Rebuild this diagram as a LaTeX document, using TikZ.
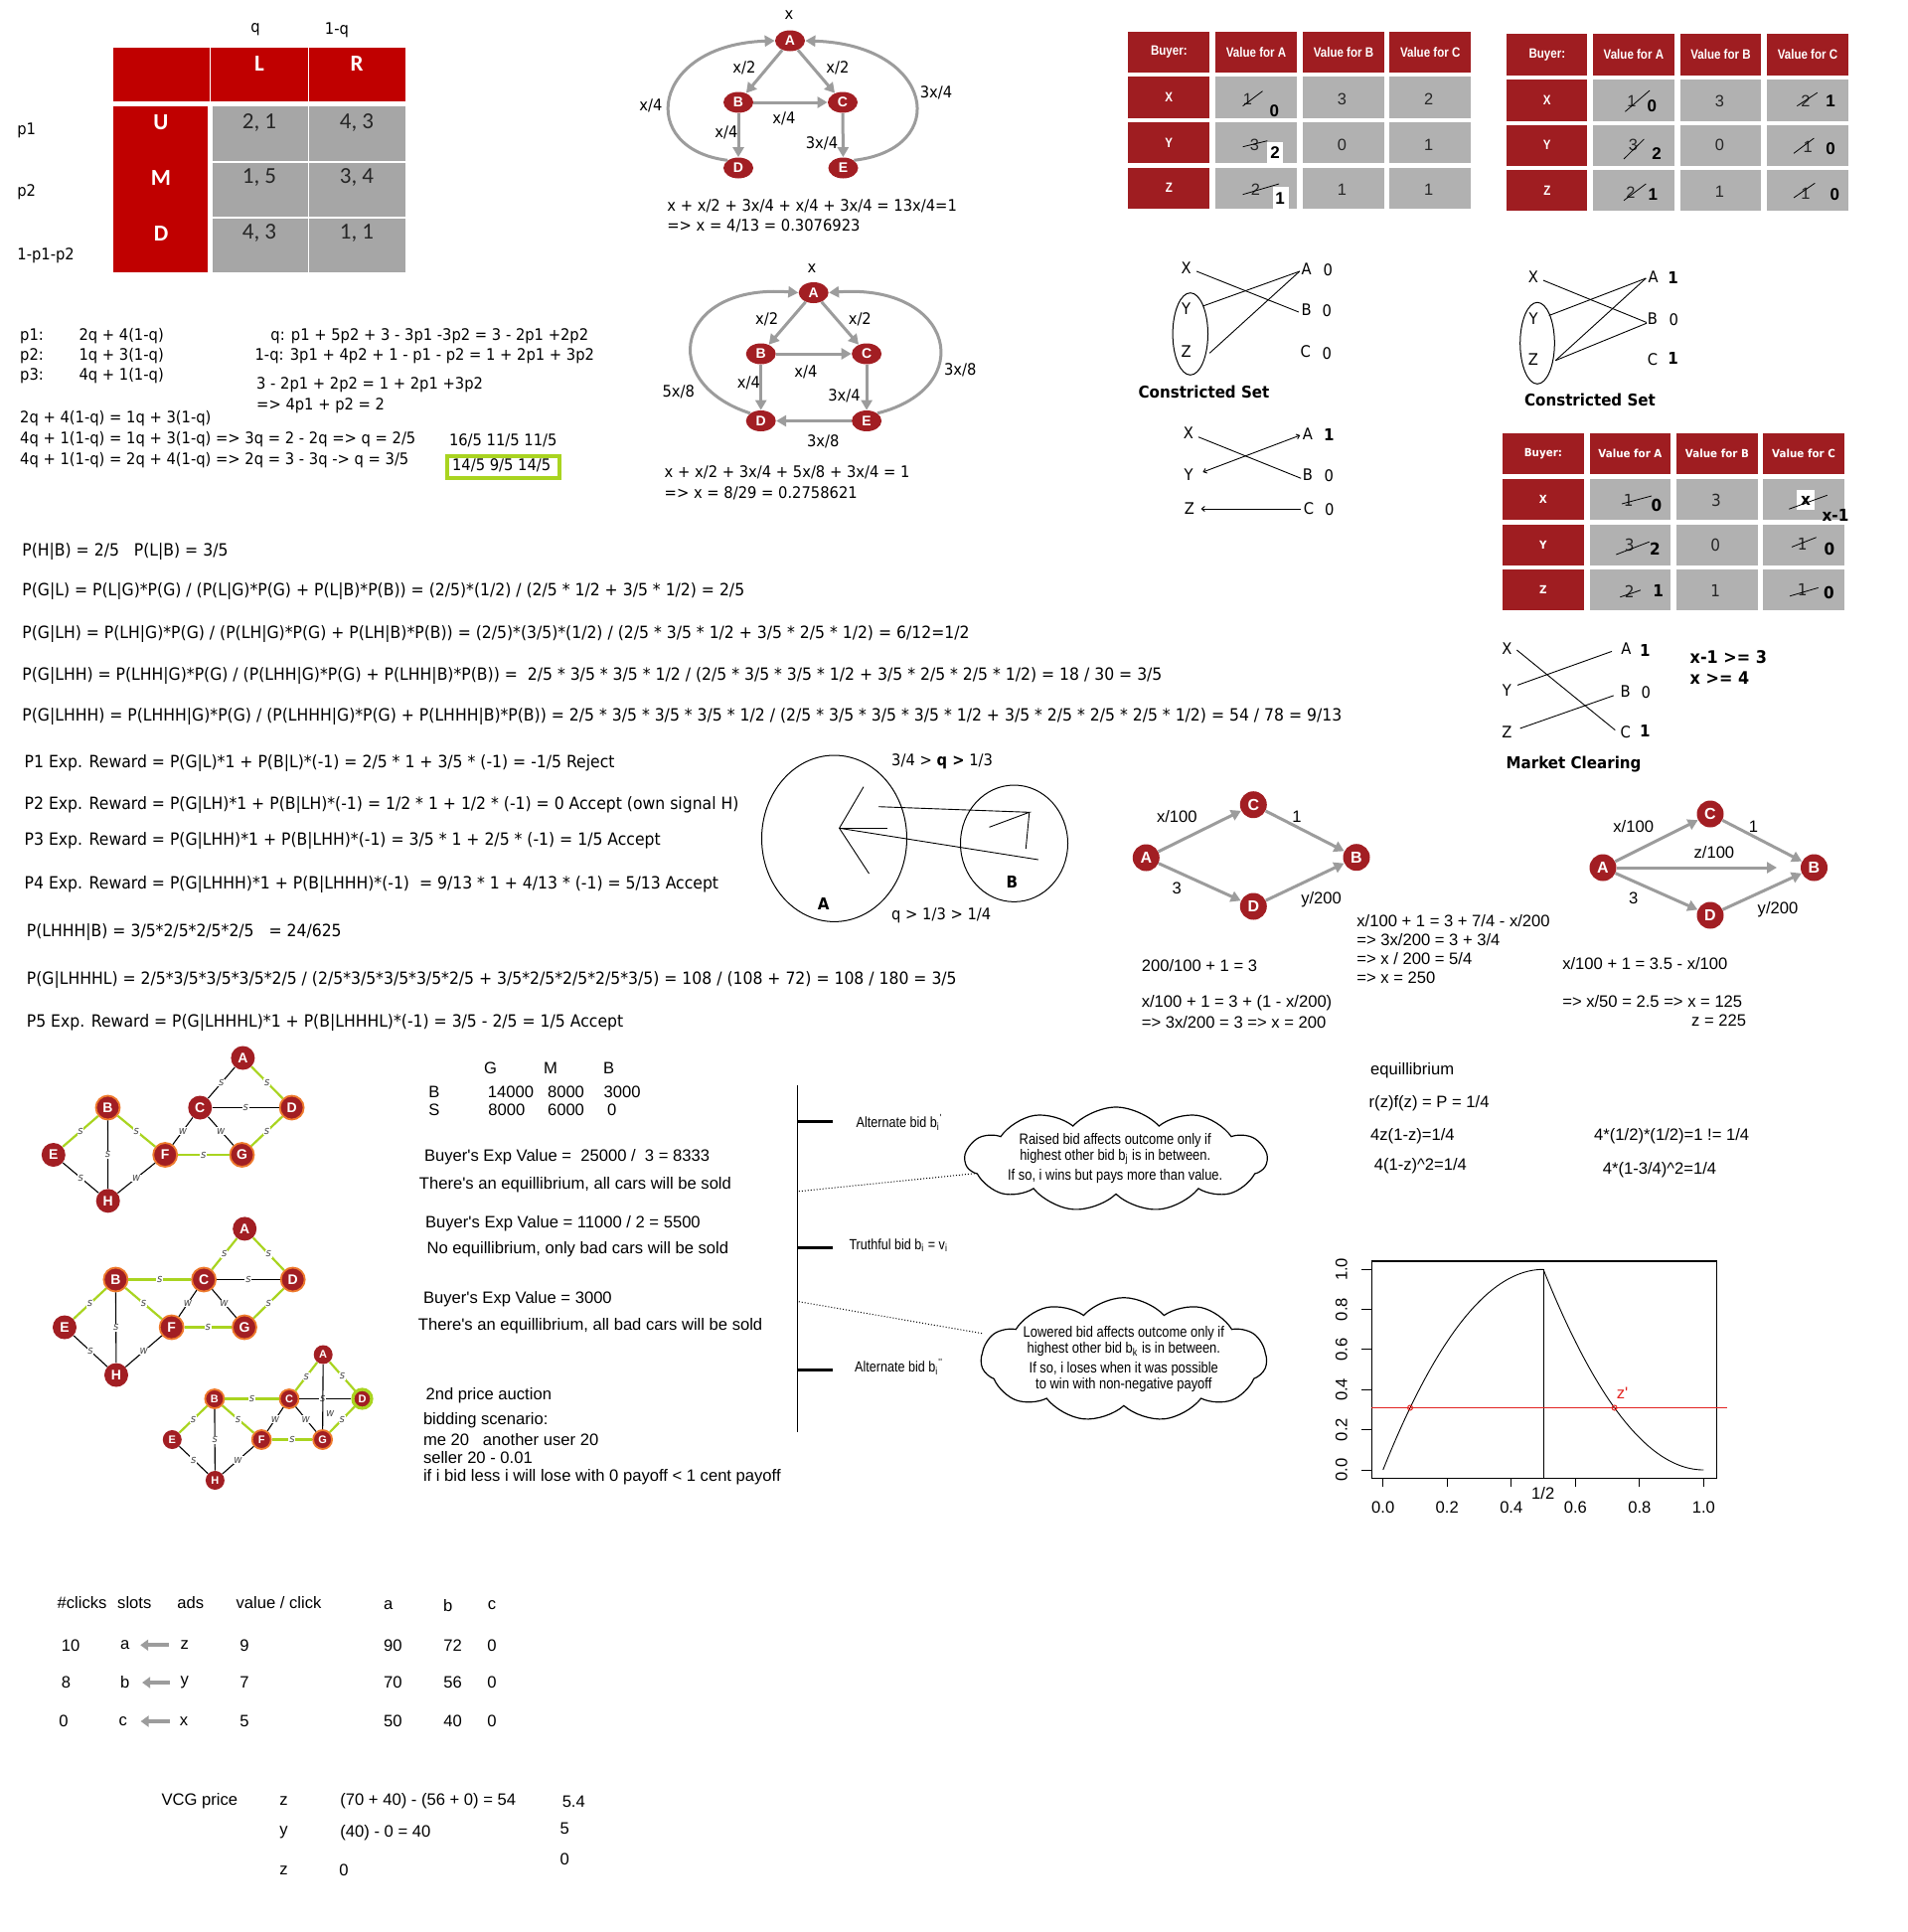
\documentclass[tikz,border=0pt]{standalone}
\usepackage{fontspec}
\setmainfont{Liberation Sans}
\newfontfamily\tah{DejaVu Sans}[FakeStretch=0.92]
\newfontfamily\calib{Carlito}
\newfontfamily\narr{Liberation Sans}[FakeStretch=0.85]
\usetikzlibrary{arrows.meta,shapes.geometric,shapes.symbols}
\newcommand\fs[1]{\fontsize{#1}{#1}\selectfont}
\definecolor{gtred}{HTML}{C00000}
\definecolor{gtgray}{HTML}{A6A6A6}
\definecolor{tbred}{HTML}{9F1D21}
\definecolor{tbgray}{HTML}{B1B1B1}
\definecolor{nred}{HTML}{A21E23}
\definecolor{agray}{HTML}{9C9C9C}
\definecolor{lgreen}{HTML}{A9D420}
\definecolor{oring}{HTML}{EF7A2C}
\definecolor{pred}{HTML}{E32522}
\begin{document}
\begin{tikzpicture}[x=0.5pt,y=-0.5pt,
  tx/.style={inner sep=0pt,font=\tah\fs{8}},
  txl/.style={tx,anchor=west},
  pl/.style={inner sep=0pt,anchor=west,font=\tah\fs{8.5}},
  txb/.style={inner sep=0pt,font=\tah\bfseries\fs{8.2}},
  txbl/.style={txb,anchor=west},
  ax/.style={inner sep=0pt,font=\fs{8.3}},
  axl/.style={ax,anchor=west},
  gt/.style={inner sep=0pt,font=\calib\fs{11.5},text=black!85},
  gtb/.style={inner sep=0pt,font=\calib\bfseries\fs{11.5},text=white},
  gn/.style={ellipse,fill=nred,text=white,font=\bfseries\fs{7},minimum width=15pt,minimum height=10.5pt,inner sep=0pt},
  nn/.style={circle,fill=nred,text=white,font=\bfseries\fs{8},minimum size=13.5pt,inner sep=0pt},
  ga/.style={draw=agray,line width=1.5pt,-{Triangle[length=5pt,width=5.5pt]}},
  bn/.style={circle,fill=nred,text=white,font=\bfseries\fs{7},minimum size=12pt,inner sep=0pt},
  bns/.style={circle,fill=nred,text=white,font=\bfseries\fs{5.5},minimum size=9.5pt,inner sep=0pt},
  orng/.style={draw=oring,line width=0.9pt},
  grng/.style={draw=lgreen,line width=1.6pt},
  ke/.style={draw=black,line width=0.55pt},
  ge/.style={draw=lgreen,line width=1.1pt},
  el/.style={fill=white,inner sep=0.4pt,font=\tah\itshape\fs{5.5},text=black!70},
  hd/.style={inner sep=0pt,text=white,font=\narr\bfseries\fs{6.8}},
  hdt/.style={inner sep=0pt,text=white,font=\tah\bfseries\fs{5.6}},
  tn/.style={inner sep=0pt,font=\fs{8.2},text=black!85},
  bd/.style={inner sep=0pt,font=\bfseries\fs{8.5}},
  tv/.style={inner sep=0pt,font=\tah\fs{8.3},text=black!85},
  bv/.style={inner sep=0pt,font=\tah\bfseries\fs{8.3}},
  stk/.style={draw=black,line width=0.4pt},
  nl/.style={inner sep=0pt,font=\narr\fs{7.6}},
  nll/.style={nl,anchor=west},
  ln/.style={draw=black,line width=0.45pt},
  cld/.style={cloud,draw,line width=0.6pt,cloud puffs=11,cloud puff arc=95,inner sep=0pt},
  clk/.style={draw=agray,line width=2pt,-{Triangle[length=4pt,width=5.5pt]}},
]
\fill[white] (0,0) rectangle (1920,1944);
\useasboundingbox (0,0) rectangle (1920,1944);

% ---------------- game table ----------------
\fill[gtred] (114,48) rectangle (211,102);
\fill[gtred] (212,48) rectangle (310,102);
\fill[gtred] (311,48) rectangle (408,102);
\fill[gtred] (114,107) rectangle (209,274);
\foreach \xa/\xb in {214/309.5,311/408} \foreach \ya/\yb in {107/162,163.5/218,219.5/274} \fill[gtgray] (\xa,\ya) rectangle (\xb,\yb);
\node[tx] (gq) at (257,30) {q};
\node[tx] (gq2) at (339,30) {1-q};
\node[txl] (gp1) at (17,131) {p1};
\node[txl] (gp2) at (17,193) {p2};
\node[txl] (gp3) at (17,257) {1-p1-p2};
\node[gtb] (gL) at (261,64) {L};
\node[gtb] (gR) at (359,64) {R};
\node[gtb] (gU) at (162,123) {U};
\node[gtb] (gM) at (162,179) {M};
\node[gtb] (gD) at (162,235) {D};
\node[gt] (g11) at (261,124) {2, 1};
\node[gt] (g12) at (359,124) {4, 3};
\node[gt] (g21) at (261,179) {1, 5};
\node[gt] (g22) at (359,179) {3, 4};
\node[gt] (g31) at (261,235) {4, 3};
\node[gt] (g32) at (359,235) {1, 1};

% ---------------- equations ----------------
\node[txl] (e1) at (19.8,338.3) {p1:};
\node[txl] (e2) at (79.1,338.3) {2q + 4(1-q)};
\node[txl] (e3) at (19.8,358.3) {p2:};
\node[txl] (e4) at (79.1,358.3) {1q + 3(1-q)};
\node[txl] (e5) at (19.8,378.3) {p3:};
\node[txl] (e6) at (79.1,378.3) {4q + 1(1-q)};
\node[txl] (e7) at (272,338.3) {q: p1 + 5p2 + 3 - 3p1 -3p2 = 3 - 2p1 +2p2};
\node[txl] (e8) at (256.2,358.3) {1-q: 3p1 + 4p2 + 1 - p1 - p2 = 1 + 2p1 + 3p2};
\node[txl] (e9) at (257.8,387.7) {3 - 2p1 + 2p2 = 1 + 2p1 +3p2};
\node[txl] (e10) at (257.8,408.3) {=> 4p1 + p2 = 2};
\node[txl] (e11) at (19.8,421) {2q + 4(1-q) = 1q + 3(1-q)};
\node[txl] (e12) at (19.8,441.7) {4q + 1(1-q) = 1q + 3(1-q) => 3q = 2 - 2q => q = 2/5};
\node[txl] (e13) at (19.8,462.7) {4q + 1(1-q) = 2q + 4(1-q) => 2q = 3 - 3q -> q = 3/5};
\node[txl] (e14) at (451.6,443.3) {16/5 11/5 11/5};
\node[txl] (e15) at (454.7,468.3) {14/5 9/5 14/5};
\draw[draw=lgreen,line width=2pt] (450,458.5) rectangle (562.7,481);

% ---------------- graph 1 ----------------
\node[gn] (A1) at (795,41) {A};
\node[gn] (B1) at (743,103) {B};
\node[gn] (C1) at (848,103) {C};
\node[gn] (D1) at (743,169) {D};
\node[gn] (E1) at (848.5,169) {E};
\draw[ga] (A1) -- (B1);
\draw[ga] (A1) -- (C1);
\draw[ga] (B1) -- (C1);
\draw[ga] (B1) -- (D1);
\draw[ga] (C1) -- (E1);
\draw[ga] (D1.north west) .. controls (640,150) and (655,45) .. (A1.west);
\draw[ga] (E1.north east) .. controls (958,150) and (940,45) .. (A1.east);
\node[tx] (l1x) at (794,15) {x};
\node[tx] (l1a) at (749,68) {x/2};
\node[tx] (l1b) at (843,68) {x/2};
\node[tx] (l1c) at (655,106) {x/4};
\node[tx] (l1d) at (942,93) {3x/4};
\node[tx] (l1e) at (789,119) {x/4};
\node[tx] (l1f) at (731,133) {x/4};
\node[tx] (l1g) at (827,144) {3x/4};
\node[txl] (l1h) at (671,207) {x + x/2 + 3x/4 + x/4 + 3x/4 = 13x/4=1};
\node[txl] (l1i) at (671,227) {=> x = 4/13 = 0.3076923};

% ---------------- graph 2 ----------------
\node[gn] (A2) at (818.7,294.5) {A};
\node[gn] (B2) at (765.7,356) {B};
\node[gn] (C2) at (872.1,356) {C};
\node[gn] (D2) at (765.7,423.5) {D};
\node[gn] (E2) at (872.1,423.5) {E};
\draw[ga] (A2) -- (B2);
\draw[ga] (A2) -- (C2);
\draw[ga] (B2) -- (C2);
\draw[ga] (B2) -- (D2);
\draw[ga] (C2) -- (E2);
\draw[ga] (E2) -- (D2);
\draw[ga] (D2.north west) .. controls (660,385) and (680,285) .. (A2.west);
\draw[ga] (E2.north east) .. controls (985,390) and (960,285) .. (A2.east);
\node[tx] (l2x) at (817,269.7) {x};
\node[tx] (l2a) at (771.6,321.3) {x/2};
\node[tx] (l2b) at (865.3,321.3) {x/2};
\node[tx] (l2c) at (811,374.7) {x/4};
\node[tx] (l2d) at (753.5,385.3) {x/4};
\node[tx] (l2e) at (849.5,398.7) {3x/4};
\node[tx] (l2f) at (682.8,394.7) {5x/8};
\node[tx] (l2g) at (966.3,372) {3x/8};
\node[tx] (l2h) at (828.2,444.7) {3x/8};
\node[txl] (l2i) at (668.3,475.7) {x + x/2 + 3x/4 + 5x/8 + 3x/4 = 1};
\node[txl] (l2j) at (668.3,496.3) {=> x = 8/29 = 0.2758621};

% ---------------- buyer table 1 ----------------
\foreach \xa/\xb in {1135/1217.4,1223/1305.2,1311/1393,1398.2/1480.2} \foreach \ya/\yb in {31.7/73.3,77.3/119,123/164.3,168.7/210} \fill[tbgray] (\xa,\ya) rectangle (\xb,\yb);
\foreach \xa/\xb in {1135/1217.4,1223/1305.2,1311/1393,1398.2/1480.2} \fill[tbred] (\xa,31.7) rectangle (\xb,73.3);
\foreach \ya/\yb in {77.3/119,123/164.3,168.7/210} \fill[tbred] (1135,\ya) rectangle (1217.4,\yb);
\node[hd] (h1a) at (1176.3,52.5) {Buyer:};
\node[hd] (h1b) at (1264.1,52.5) {Value for A};
\node[hd] (h1c) at (1352,52.5) {Value for B};
\node[hd] (h1d) at (1439.2,52.5) {Value for C};
\node[hd] (h1x) at (1176.3,98.2) {X};
\node[hd] (h1y) at (1176.3,143.7) {Y};
\node[hd] (h1z) at (1176.3,189.3) {Z};
\node[tn] (t1xa) at (1255.3,100) {1};
\draw[stk] (1250.6,106.7) -- (1270.5,91.7);
\node[bd] (t1xa2) at (1282.4,112) {0};
\node[tn] (t1xb) at (1350.3,100) {3};
\node[tn] (t1xc) at (1437.7,100) {2};
\node[tn] (t1ya) at (1262.4,145.7) {3};
\draw[stk] (1250.6,147.7) -- (1275.3,141.7);
\fill[white] (1275.3,143.3) rectangle (1291,164.3);
\node[bd] (t1ya2) at (1283,153.5) {2};
\node[tn] (t1yb) at (1350.3,145.7) {0};
\node[tn] (t1yc) at (1437.7,145.7) {1};
\node[tn] (t1za) at (1263.4,190.7) {2};
\draw[stk] (1250.6,195.7) -- (1287.1,185);
\fill[white] (1281.4,188.3) rectangle (1296.6,210);
\node[bd] (t1za2) at (1288,200) {1};
\node[tn] (t1zb) at (1350.3,190.7) {1};
\node[tn] (t1zc) at (1437.7,190.7) {1};

% ---------------- buyer table 2 ----------------
\foreach \xa/\xb in {1516.2/1597.4,1603/1684.7,1690.6/1772.4,1778.1/1859.8} \foreach \ya/\yb in {34/75.7,79.7/121.7,125.7/167,171/212.3} \fill[tbgray] (\xa,\ya) rectangle (\xb,\yb);
\foreach \xa/\xb in {1516.2/1597.4,1603/1684.7,1690.6/1772.4,1778.1/1859.8} \fill[tbred] (\xa,34) rectangle (\xb,75.7);
\foreach \ya/\yb in {79.7/121.7,125.7/167,171/212.3} \fill[tbred] (1516.2,\ya) rectangle (1597.4,\yb);
\node[hd] (h2a) at (1556.8,54.8) {Buyer:};
\node[hd] (h2b) at (1643.9,54.8) {Value for A};
\node[hd] (h2c) at (1731.5,54.8) {Value for B};
\node[hd] (h2d) at (1819,54.8) {Value for C};
\node[hd] (h2x) at (1556.8,100.7) {X};
\node[hd] (h2y) at (1556.8,146.3) {Y};
\node[hd] (h2z) at (1556.8,191.7) {Z};
\node[tn] (t2xa) at (1642,101.7) {1};
\draw[stk] (1635.4,112.3) -- (1660.1,91);
\node[bd] (t2xa2) at (1662.4,106.7) {0};
\node[tn] (t2xb) at (1730.4,101.7) {3};
\node[tn] (t2xc) at (1816.8,101.7) {2};
\draw[stk] (1808.3,106.7) -- (1828.7,93.3);
\node[bd] (t2xc2) at (1842,101.7) {1};
\node[tn] (t2ya) at (1643.4,145.7) {3};
\draw[stk] (1634,160) -- (1654.4,140);
\node[bd] (t2ya2) at (1667.2,154.3) {2};
\node[tn] (t2yb) at (1730.4,146) {0};
\node[tn] (t2yc) at (1819.2,148.3) {1};
\draw[stk] (1805,154.3) -- (1825.4,139);
\node[bd] (t2yc2) at (1842,150) {0};
\node[tn] (t2za) at (1641,193.3) {2};
\draw[stk] (1634,201.7) -- (1656.3,185);
\node[bd] (t2za2) at (1663.4,196) {1};
\node[tn] (t2zb) at (1730.4,193) {1};
\node[tn] (t2zc) at (1816.8,195) {1};
\draw[stk] (1805,199) -- (1826.3,184.3);
\node[bd] (t2zc2) at (1846.3,195.7) {0};

% ---------------- constricted set 1 ----------------
\node[tx] (s1X) at (1193.7,269.7) {X};
\node[tx] (s1Y) at (1193.7,310.7) {Y};
\node[tx] (s1Z) at (1193.7,354) {Z};
\node[tx] (s1A) at (1314.6,270.7) {A};
\node[tx] (s1B) at (1314.6,311.3) {B};
\node[tx] (s1C) at (1313.7,354) {C};
\node[tx] (s1a) at (1336.4,272) {0};
\node[tx] (s1b) at (1335.4,313) {0};
\node[tx] (s1c) at (1335.4,355.3) {0};
\coordinate (s1x1) at (1204.1,273);
\coordinate (s1b1) at (1306.9,314);
\coordinate (s1y1) at (1210.4,308);
\coordinate (s1a1) at (1307.8,273);
\coordinate (s1z1) at (1217.2,355.3);
\draw[ln] (s1x1) -- (s1b1);
\draw[ln] (s1y1) -- (s1a1);
\draw[ln] (s1z1) -- (s1a1);
\draw[line width=0.5pt] (1197.8,336) ellipse [x radius=17.7, y radius=41.3];
\node[txbl] (s1t) at (1145.2,394.7) {Constricted Set};

% matching below
\node[tx] (m1X) at (1196,435.3) {X};
\node[tx] (m1Y) at (1196,477.3) {Y};
\node[tx] (m1Z) at (1196.9,511.3) {Z};
\node[tx] (m1A) at (1316,436.3) {A};
\node[tx] (m1B) at (1316,477.3) {B};
\node[tx] (m1C) at (1316.9,511.3) {C};
\node[txb] (m1a) at (1337.3,437.3) {1};
\node[tx] (m1b) at (1337.3,478.7) {0};
\node[tx] (m1c) at (1337.7,513) {0};
\coordinate (m1x1) at (1205.9,439.7);
\coordinate (m1b1) at (1309.2,481.3);
\coordinate (m1a1) at (1308.3,438);
\coordinate (m1y1) at (1210.4,475);
\coordinate (m1z1) at (1208.6,512);
\coordinate (m1c1) at (1309.2,512);
\draw[ln] (m1x1) -- (m1b1);
\draw[ln,{Straight Barb[length=1.5pt,width=2.5pt]}-{Straight Barb[length=1.5pt,width=2.5pt]}] (m1y1) -- (m1a1);
\draw[ln,{Straight Barb[length=1.5pt,width=2.5pt]}-] (m1z1) -- (m1c1);

% ---------------- constricted set 2 ----------------
\node[tx] (s2X) at (1543,278.6) {X};
\node[tx] (s2Y) at (1543,320.3) {Y};
\node[tx] (s2Z) at (1543,362) {Z};
\node[tx] (s2A) at (1663.7,278.6) {A};
\node[tx] (s2B) at (1663,320.3) {B};
\node[tx] (s2C) at (1663,362) {C};
\node[txb] (s2a) at (1683.7,280) {1};
\node[tx] (s2b) at (1684.3,322) {0};
\node[txb] (s2c) at (1683.7,361) {1};
\coordinate (s2x1) at (1553,282.1);
\coordinate (s2b1) at (1657,324.5);
\coordinate (s2y1) at (1558.7,317.5);
\coordinate (s2a1) at (1656.3,280);
\coordinate (s2z1) at (1565.3,362.7);
\coordinate (s2b2) at (1657,325.2);
\draw[ln] (s2x1) -- (s2b1);
\draw[ln] (s2y1) -- (s2a1);
\draw[ln] (s2z1) -- (s2a1);
\draw[ln] (s2z1) -- (s2b2);
\draw[line width=0.5pt] (1547,345.3) ellipse [x radius=17.3, y radius=41];
\node[txbl] (s2t) at (1533.7,402.7) {Constricted Set};

% ---------------- buyer table 3 ----------------
\foreach \xa/\xb in {1512/1593.7,1599.7/1681,1687/1768.7,1774.3/1855.7} \foreach \ya/\yb in {435.7/477.4,481.6/522.6,527.5/568.5,573/614} \fill[tbgray] (\xa,\ya) rectangle (\xb,\yb);
\foreach \xa/\xb in {1512/1593.7,1599.7/1681,1687/1768.7,1774.3/1855.7} \fill[tbred] (\xa,435.7) rectangle (\xb,477.4);
\foreach \ya/\yb in {481.6/522.6,527.5/568.5,573/614} \fill[tbred] (1512,\ya) rectangle (1593.7,\yb);
\node[hdt] (h3a) at (1552.9,456.5) {Buyer:};
\node[hdt] (h3b) at (1640.4,456.5) {Value for A};
\node[hdt] (h3c) at (1727.9,456.5) {Value for B};
\node[hdt] (h3d) at (1815,456.5) {Value for C};
\node[hdt] (h3x) at (1552.9,502.1) {X};
\node[hdt] (h3y) at (1552.9,548) {Y};
\node[hdt] (h3z) at (1552.9,593.5) {Z};
\node[tv] (t3xa) at (1638.7,503.5) {1};
\draw[stk] (1632,507) -- (1662,499);
\node[bv] (t3xa2) at (1667,508) {0};
\node[tv] (t3xb) at (1727,503.5) {3};
\fill[white] (1808,493) rectangle (1825.7,513.2);
\node[bv] (t3xc) at (1817,504.2) {x};
\draw[stk] (1800.3,512.2) -- (1838.7,498.3);
\node[bv] (t3xc2) at (1847,518.4) {x-1};
\node[tv] (t3ya) at (1639.7,548.7) {3};
\draw[stk] (1626.3,558) -- (1659.7,545.2);
\node[bv] (t3ya2) at (1665.3,552.1) {2};
\node[tv] (t3yb) at (1726.3,548.7) {0};
\node[tv] (t3yc) at (1813.7,547.6) {1};
\draw[stk] (1803,550.4) -- (1827.7,540.7);
\node[bv] (t3yc2) at (1841,552.1) {0};
\node[tv] (t3za) at (1639.7,594.9) {2};
\draw[stk] (1630.3,600.8) -- (1651,593.8);
\node[bv] (t3za2) at (1668.7,594.9) {1};
\node[tv] (t3zb) at (1726.3,594.9) {1};
\node[tv] (t3zc) at (1813.7,593.8) {1};
\draw[stk] (1801,599.8) -- (1829.7,591.4);
\node[bv] (t3zc2) at (1840.3,596.6) {0};

% ---------------- market clearing ----------------
\node[tx] (mcX) at (1516.3,653) {X};
\node[tx] (mcY) at (1516.3,694.6) {Y};
\node[tx] (mcZ) at (1516.3,736.4) {Z};
\node[tx] (mcA) at (1636.3,653) {A};
\node[tx] (mcB) at (1635.7,695.3) {B};
\node[tx] (mcC) at (1635.7,736.4) {C};
\node[txb] (mca) at (1655.3,654.7) {1};
\node[tx] (mcb) at (1656.3,697) {0};
\node[txb] (mcc) at (1655.3,735.7) {1};
\coordinate (mcx1) at (1526.3,654);
\coordinate (mcc1) at (1625.3,734.6);
\coordinate (mcy1) at (1527,689.4);
\coordinate (mca1) at (1622,655.4);
\coordinate (mcz1) at (1529.7,732.9);
\coordinate (mcb1) at (1623.7,699.9);
\draw[ln] (mcx1) -- (mcc1);
\draw[ln] (mcy1) -- (mca1);
\draw[ln] (mcz1) -- (mcb1);
\node[txbl] (mct) at (1515.3,769.4) {Market Clearing};
\node[txbl,font=\tah\bfseries\fs{8.7}] (mcq1) at (1700.3,661.6) {x-1 >= 3};
\node[txbl,font=\tah\bfseries\fs{8.7}] (mcq2) at (1700.3,682.5) {x >= 4};

% ---------------- probability text ----------------
\node[pl] (p1) at (22,554.7) {P(H|B) = 2/5~~~P(L|B) = 3/5};
\node[pl] (p2) at (22,594.7) {P(G|L) = P(L|G)*P(G) / (P(L|G)*P(G) + P(L|B)*P(B)) = (2/5)*(1/2) / (2/5 * 1/2 + 3/5 * 1/2) = 2/5};
\node[pl] (p3) at (22,638) {P(G|LH) = P(LH|G)*P(G) / (P(LH|G)*P(G) + P(LH|B)*P(B)) = (2/5)*(3/5)*(1/2) / (2/5 * 3/5 * 1/2 + 3/5 * 2/5 * 1/2) = 6/12=1/2};
\node[pl] (p4) at (22,679.7) {P(G|LHH) = P(LHH|G)*P(G) / (P(LHH|G)*P(G) + P(LHH|B)*P(B)) = ~2/5 * 3/5 * 3/5 * 1/2 / (2/5 * 3/5 * 3/5 * 1/2 + 3/5 * 2/5 * 2/5 * 1/2) = 18 / 30 = 3/5};
\node[pl] (p5) at (22,721.3) {P(G|LHHH) = P(LHHH|G)*P(G) / (P(LHHH|G)*P(G) + P(LHHH|B)*P(B)) = 2/5 * 3/5 * 3/5 * 3/5 * 1/2 / (2/5 * 3/5 * 3/5 * 3/5 * 1/2 + 3/5 * 2/5 * 2/5 * 2/5 * 1/2) = 54 / 78 = 9/13};
\node[pl] (r1) at (24.3,768) {P1 Exp. Reward = P(G|L)*1 + P(B|L)*(-1) = 2/5 * 1 + 3/5 * (-1) = -1/5 Reject};
\node[pl] (r2) at (24.3,809.7) {P2 Exp. Reward = P(G|LH)*1 + P(B|LH)*(-1) = 1/2 * 1 + 1/2 * (-1) = 0 Accept (own signal H)};
\node[pl] (r3) at (24.3,846.3) {P3 Exp. Reward = P(G|LHH)*1 + P(B|LHH)*(-1) = 3/5 * 1 + 2/5 * (-1) = 1/5 Accept};
\node[pl] (r4) at (24.3,889.7) {P4 Exp. Reward = P(G|LHHH)*1 + P(B|LHHH)*(-1) ~= 9/13 * 1 + 4/13 * (-1) = 5/13 Accept};
\node[pl] (r5) at (26.5,938) {P(LHHH|B) = 3/5*2/5*2/5*2/5 ~~= 24/625};
\node[pl] (r6) at (26.5,986.3) {P(G|LHHHL) = 2/5*3/5*3/5*3/5*2/5 / (2/5*3/5*3/5*3/5*2/5 + 3/5*2/5*2/5*2/5*3/5) = 108 / (108 + 72) = 108 / 180 = 3/5};
\node[pl] (r7) at (26.5,1029) {P5 Exp. Reward = P(G|LHHHL)*1 + P(B|LHHHL)*(-1) = 3/5 - 2/5 = 1/5 Accept};

% ---------------- circles A/B ----------------
\draw[line width=0.5pt] (839.5,843.7) ellipse [x radius=73, y radius=83.7];
\draw[line width=0.5pt] (1020.5,848.7) ellipse [x radius=54, y radius=58.7];
\node[txb] (cA) at (828.6,909.7) {A};
\node[txb] (cB) at (1018.4,888) {B};
\node[txl] (cq1) at (896.8,766.7) {3/4 > \textbf{q >} 1/3};
\node[txl] (cq2) at (896.8,921.3) {q > 1/3 > 1/4};
\coordinate (k1) at (869,791.7);
\coordinate (k2) at (844.6,833.3);
\coordinate (k3) at (874.5,879);
\coordinate (k4) at (893.3,833.3);
\coordinate (k5) at (1044.8,865);
\coordinate (k6) at (884.2,811.7);
\coordinate (k7) at (1035.8,817.3);
\coordinate (k8) at (995.5,832.3);
\coordinate (k9) at (1032.3,854);
\draw[ln] (k1) -- (k2) -- (k3);
\draw[ln] (k2) -- (k4);
\draw[ln] (k2) -- (k5);
\draw[ln] (k6) -- (k7) -- (k8);
\draw[ln] (k7) -- (k9);

% ---------------- network 1 ----------------
\node[nn] (N1A) at (1153.3,863) {A};
\node[nn] (N1C) at (1261.3,809.7) {C};
\node[nn] (N1B) at (1365,862.7) {B};
\node[nn] (N1D) at (1261.3,912) {D};
\draw[ga] (N1A) -- (N1C);
\draw[ga] (N1C) -- (N1B);
\draw[ga] (N1A) -- (N1D);
\draw[ga] (N1D) -- (N1B);
\node[ax] (n1a) at (1184.3,821.7) {x/100};
\node[ax] (n1b) at (1305,821.7) {1};
\node[ax] (n1c) at (1184.3,893.3) {3};
\node[ax] (n1d) at (1329.6,905) {y/200};
\node[axl] (n1e) at (1148.4,971.7) {200/100 + 1 = 3};
\node[axl] (n1f) at (1148.4,1009.3) {x/100 + 1 = 3 + (1 - x/200)};
\node[axl] (n1g) at (1148.4,1028.3) {=> 3x/200 = 3 => x = 200};
\node[axl] (n1h) at (1365,926.7) {x/100 + 1 = 3 + 7/4 - x/200};
\node[axl] (n1i) at (1365,945.7) {=> 3x/200 = 3 + 3/4};
\node[axl] (n1j) at (1365,964.3) {=> x / 200 = 5/4};
\node[axl] (n1k) at (1365,983.3) {=> x = 250};

% ---------------- network 2 ----------------
\node[nn] (N2A) at (1613,873) {A};
\node[nn] (N2C) at (1721,819) {C};
\node[nn] (N2B) at (1825.5,873) {B};
\node[nn] (N2D) at (1721,921) {D};
\coordinate (N2x) at (1788,873);
\draw[ga] (N2A) -- (N2C);
\draw[ga] (N2C) -- (N2B);
\draw[ga] (N2A) -- (N2D);
\draw[ga] (N2D) -- (N2B);
\draw[ga] (N2A) -- (N2x);
\node[ax] (n2a) at (1643.7,831.7) {x/100};
\node[ax] (n2b) at (1764.4,831.7) {1};
\node[ax] (n2c) at (1724.9,857.3) {z/100};
\node[ax] (n2d) at (1643.7,903.3) {3};
\node[ax] (n2e) at (1789,915) {y/200};
\node[axl] (n2f) at (1571.9,969.3) {x/100 + 1 = 3.5 - x/100};
\node[axl] (n2g) at (1571.9,1007.7) {=> x/50 = 2.5 => x = 125};
\node[axl] (n2h) at (1701.8,1026.7) {z = 225};

% ---------------- small graph a ----------------
\node[bn,orng] (aB) at (108.5,1114.5) {B};
\node[bn] (aA) at (244.4,1064.5) {A};
\node[bn] (aC) at (201.3,1114.5) {C};
\node[bn,orng] (aD) at (293.6,1114.5) {D};
\node[bn] (aE) at (53.8,1162) {E};
\node[bn,orng] (aF) at (166.2,1162) {F};
\node[bn,orng] (aG) at (243.5,1162) {G};
\node[bn] (aH) at (108.7,1208.3) {H};
\draw[ke] (aA) -- node[el]{s} (aC);
\draw[ge] (aA) -- node[el]{s} (aD);
\draw[ke] (aC) -- node[el]{s} (aD);
\draw[ke] (aC) -- node[el]{w} (aF);
\draw[ke] (aC) -- node[el]{w} (aG);
\draw[ge] (aB) -- node[el]{s} (aE);
\draw[ge] (aB) -- node[el]{s} (aF);
\draw[ke] (aB) -- node[el]{s} (aH);
\draw[ke] (aE) -- node[el]{s} (aH);
\draw[ke] (aF) -- node[el]{w} (aH);
\draw[ge] (aF) -- node[el]{s} (aG);
\draw[ge] (aD) -- node[el]{s} (aG);

% ---------------- small graph b ----------------
\node[bn] (bA) at (246.2,1236.4) {A};
\node[bn,orng] (bB) at (116.4,1287.5) {B};
\node[bn,orng] (bC) at (205.1,1287.5) {C};
\node[bn,orng] (bD) at (294.7,1287.5) {D};
\node[bn] (bE) at (65,1335.5) {E};
\node[bn,orng] (bF) at (172.7,1335.5) {F};
\node[bn,orng] (bG) at (246,1335.5) {G};
\node[bn] (bH) at (117,1383.5) {H};
\draw[ge] (bA) -- node[el]{s} (bC);
\draw[ge] (bA) -- node[el]{s} (bD);
\draw[ge] (bB) -- node[el]{s} (bC);
\draw[ke] (bC) -- node[el]{s} (bD);
\draw[ke] (bC) -- node[el]{w} (bF);
\draw[ke] (bC) -- node[el]{w} (bG);
\draw[ge] (bB) -- node[el]{s} (bE);
\draw[ge] (bB) -- node[el]{s} (bF);
\draw[ke] (bB) -- node[el]{s} (bH);
\draw[ke] (bE) -- node[el]{s} (bH);
\draw[ke] (bF) -- node[el]{w} (bH);
\draw[ge] (bF) -- node[el]{s} (bG);
\draw[ge] (bD) -- node[el]{s} (bG);

% ---------------- small graph c ----------------
\node[bns] (cnA) at (325.2,1363) {A};
\node[bns,orng] (cnB) at (215.9,1407.5) {B};
\node[bns,orng] (cnC) at (291,1407.5) {C};
\node[bns,grng] (cnD) at (364.5,1407.5) {D};
\node[bns] (cnE) at (173.3,1448.5) {E};
\node[bns,orng] (cnF) at (263.2,1448.5) {F};
\node[bns,orng] (cnG) at (324.6,1448.5) {G};
\node[bns] (cnH) at (216.4,1489.5) {H};
\draw[ge] (cnA) -- node[el]{s} (cnC);
\draw[ge] (cnA) -- node[el]{s} (cnD);
\draw[ge] (cnB) -- node[el]{s} (cnC);
\draw[ke] (cnC) -- node[el,pos=0.45]{s} (cnD);
\draw[ke] (cnA) -- node[el,pos=0.76,right=1pt,fill=none]{w} (cnG);
\draw[ke] (cnC) -- node[el]{w} (cnF);
\draw[ke] (cnC) -- node[el]{w} (cnG);
\draw[ge] (cnD) -- node[el]{s} (cnG);
\draw[ge] (cnB) -- node[el]{s} (cnE);
\draw[ge] (cnB) -- node[el]{s} (cnF);
\draw[ke] (cnB) -- node[el]{s} (cnH);
\draw[ke] (cnE) -- node[el]{s} (cnH);
\draw[ke] (cnF) -- node[el]{w} (cnH);
\draw[ge] (cnF) -- node[el]{s} (cnG);

% ---------------- car table ----------------
\node[ax] (vG) at (493.5,1074.3) {G};
\node[ax] (vM) at (554.1,1074.3) {M};
\node[ax] (vB) at (612.7,1074.3) {B};
\node[ax] (vb) at (436.9,1098.3) {B};
\node[ax] (vb1) at (514,1098.3) {14000};
\node[ax] (vb2) at (569.5,1098.3) {8000};
\node[ax] (vb3) at (626.1,1098.3) {3000};
\node[ax] (vs) at (436.9,1117) {S};
\node[ax] (vs1) at (509.9,1117) {8000};
\node[ax] (vs2) at (569.5,1117) {6000};
\node[ax] (vs3) at (615.8,1117) {0};
\node[axl] (v1) at (426.6,1163.7) {Buyer\textquotesingle s Exp Value = ~25000 / ~3 = 8333};
\node[axl] (v2) at (421.5,1191.7) {There\textquotesingle s an equillibrium, all cars will be sold};
\node[axl] (v3) at (427.7,1231) {Buyer\textquotesingle s Exp Value = 11000 / 2 = 5500};
\node[axl] (v4) at (429.2,1256.7) {No equillibrium, only bad cars will be sold};
\node[axl] (v5) at (425.6,1306.7) {Buyer\textquotesingle s Exp Value = 3000};
\node[axl] (v6) at (420.5,1334.3) {There\textquotesingle s an equillibrium, all bad cars will be sold};
\node[axl] (v7) at (428.2,1404.3) {2nd price auction};
\node[axl] (v8) at (425.6,1429.3) {bidding scenario:};
\node[axl] (v9) at (425.6,1448.3) {me 20 ~~another user 20};
\node[axl] (v10) at (425.6,1467) {seller 20 - 0.01};
\node[axl] (v11) at (425.6,1486) {if i bid less i will lose with 0 payoff < 1 cent payoff};

% ---------------- bidding timeline ----------------
\coordinate (tl0) at (802.3,1092.3);
\coordinate (tl1) at (802.3,1441.3);
\draw[line width=0.8pt] (tl0) -- (tl1);
\draw[line width=1.5pt] (802.3,1128) -- (838.3,1128);
\draw[line width=1.5pt] (802.3,1255.3) -- (838.3,1255.3);
\draw[line width=1.5pt] (802.3,1378) -- (838.3,1378);
\node[nll,font=\narr\fs{7.4}] (bl1) at (861.3,1129.7) {Alternate bid b\textsubscript{i}\textsuperscript{\textquotesingle}};
\node[nll,font=\narr\fs{7.4}] (bl2) at (854.1,1253) {Truthful bid b\textsubscript{i} = v\textsubscript{i}};
\node[nll,font=\narr\fs{7.4}] (bl3) at (859.8,1375.7) {Alternate bid b\textsubscript{i}\textsuperscript{\textquotesingle\textquotesingle}};
\node[cld,aspect=2.9,minimum width=151.6pt,minimum height=52.5pt] (cl1) at (1123,1166.5) {};
\node[cld,aspect=2.3,minimum width=143.7pt,minimum height=62.3pt] (cl2) at (1130.9,1368) {};
\node[nl] (c1t1) at (1122.2,1148) {Raised bid affects outcome only if};
\node[nl] (c1t2) at (1122.2,1164) {highest other bid b\textsubscript{j} is in between.};
\node[nl] (c1t3) at (1122.2,1184) {If so, i wins but pays more than value.};
\node[nl] (c2t1) at (1130.8,1341.3) {Lowered bid affects outcome only if};
\node[nl] (c2t2) at (1130.8,1358) {highest other bid b\textsubscript{k} is in between.};
\node[nl] (c2t3) at (1130.8,1378) {If so, i loses when it was possible};
\node[nl] (c2t4) at (1130.8,1393.7) {to win with non-negative payoff};
\coordinate (dt1) at (803.8,1198.7);
\coordinate (dt2) at (803.8,1309.7);
\coordinate (dc1) at (981.3,1180.7);
\coordinate (dc2) at (988.5,1341.7);
\draw[densely dotted,line width=0.5pt] (dt1) -- (dc1);
\draw[densely dotted,line width=0.5pt] (dt2) -- (dc2);

% ---------------- equilibrium ----------------
\node[axl] (q1) at (1378.8,1077) {equillibrium};
\node[axl] (q2) at (1377.3,1109.7) {r(z)f(z) = P = 1/4};
\node[axl] (q3) at (1378.8,1143) {4z(1-z)=1/4};
\node[axl] (q4) at (1382.4,1173) {4(1-z)\textasciicircum 2=1/4};
\node[axl] (q5) at (1603.8,1143) {4*(1/2)*(1/2)=1 != 1/4};
\node[axl] (q6) at (1612.4,1177) {4*(1-3/4)\textasciicircum 2=1/4};

% ---------------- plot ----------------
\draw[line width=0.7pt] (1380.2,1269) rectangle (1727.4,1487.3);
\foreach \t/\lab in {0/0.0,0.2/0.2,0.4/0.4,0.6/0.6,0.8/0.8,1/1.0} {
  \draw[line width=0.5pt] ({1391.7+322.7*\t},1487.3) -- ({1391.7+322.7*\t},1496);
  \node[ax] at ({1391.7+322.7*\t},1516.3) {\lab};
}
\foreach \v/\lab in {0/0.0,0.2/0.2,0.4/0.4,0.6/0.6,0.8/0.8,1/1.0} {
  \draw[line width=0.5pt] (1370.2,{1479-201.7*\v}) -- (1380.2,{1479-201.7*\v});
  \node[ax,rotate=90] at (1350,{1479-201.7*\v}) {\lab};
}
\node[ax] (half) at (1552.7,1503) {1/2};
\draw[line width=0.45pt] plot[domain=0:0.5,samples=60] ({1391.7+322.7*\x},{1479-201.7*4*\x*(1-\x)});
\draw[line width=0.45pt] plot[domain=0.5:1,samples=60] ({1391.7+322.7*\x},{1479-201.7*4*(1-\x)*(1-\x)});
\draw[line width=0.4pt] (1553.1,1277.3) -- (1553.1,1487.3);
\draw[pred,line width=0.6pt] (1380.2,1416.5) -- (1738.2,1416.5);
\draw[pred,line width=0.5pt] (1419,1416.5) circle [radius=2.5];
\draw[pred,line width=0.5pt] (1624.6,1416.5) circle [radius=2.5];
\node[ax,text=pred] (zp) at (1632.5,1401.3) {z\textquotesingle};

% ---------------- click table ----------------
\node[axl] (k0a) at (57.3,1613) {\#clicks};
\node[axl] (k0b) at (117.8,1613) {slots};
\node[axl] (k0c) at (177.9,1613) {ads};
\node[axl] (k0d) at (237.2,1613) {value / click};
\node[ax] (k0e) at (390.7,1615.3) {a};
\node[ax] (k0f) at (450.8,1615.3) {b};
\node[ax] (k0g) at (495.1,1615.3) {c};
\node[ax] (k1a) at (71.2,1655.3) {10};
\node[ax] (k1b) at (125.7,1655.3) {a};
\node[ax] (k1c) at (185.8,1655.3) {z};
\node[ax] (k1d) at (246,1655.3) {9};
\node[ax] (k1e) at (395.4,1655.3) {90};
\node[ax] (k1f) at (455.5,1655.3) {72};
\node[ax] (k1g) at (495.1,1655.3) {0};
\node[ax] (k2a) at (66.4,1693) {8};
\node[ax] (k2b) at (125.7,1693) {b};
\node[ax] (k2c) at (185.8,1693) {y};
\node[ax] (k2d) at (246,1693) {7};
\node[ax] (k2e) at (395.4,1693) {70};
\node[ax] (k2f) at (455.5,1693) {56};
\node[ax] (k2g) at (495.1,1693) {0};
\node[ax] (k3a) at (64.1,1732) {0};
\node[ax] (k3b) at (123.8,1732) {c};
\node[ax] (k3c) at (185,1732) {x};
\node[ax] (k3d) at (246,1732) {5};
\node[ax] (k3e) at (395.4,1732) {50};
\node[ax] (k3f) at (455.5,1732) {40};
\node[ax] (k3g) at (495.1,1732) {0};
\coordinate (ka1s) at (170,1655.3);
\coordinate (ka1e) at (141.2,1655.3);
\coordinate (ka2s) at (170.8,1693);
\coordinate (ka2e) at (143.1,1693);
\coordinate (ka3s) at (170.8,1732);
\coordinate (ka3e) at (141.6,1732);
\draw[clk] (ka1s) -- (ka1e);
\draw[clk] (ka2s) -- (ka2e);
\draw[clk] (ka3s) -- (ka3e);
\node[axl] (g1) at (162.1,1812) {VCG price};
\node[ax] (g2) at (285.5,1812) {z};
\node[axl] (g3) at (342,1812) {(70 + 40) - (56 + 0) = 54};
\node[ax] (g4) at (577.3,1812.7) {5.4};
\node[ax] (g5) at (285.5,1844.3) {y};
\node[axl] (g6) at (342,1844.3) {(40) - 0 = 40};
\node[ax] (g7) at (568.2,1840.3) {5};
\node[ax] (g8) at (285.5,1882) {z};
\node[ax] (g9) at (346,1882) {0};
\node[ax] (g10) at (568.2,1871) {0};
\end{tikzpicture}
\end{document}
